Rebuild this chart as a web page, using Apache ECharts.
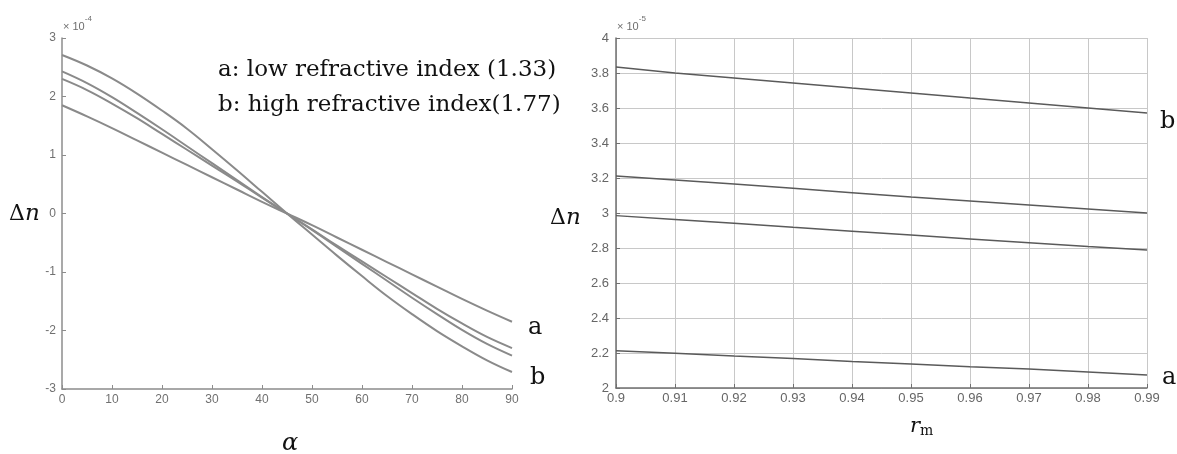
<!DOCTYPE html>
<html><head><meta charset="utf-8">
<script src="https://cdn.jsdelivr.net/npm/echarts@6/dist/echarts.min.js"></script>
<style>html,body{margin:0;padding:0;background:#fff}#c{width:1177px;height:454px}</style>
</head><body><div id="c"></div>
<script>
// Left panel: Δn (×10^-4) vs α (degrees)
const alphaVals = [0,5,10,15,20,25,30,35,40,45,50,55,60,65,70,75,80,85,90];
const curveB1 = [2.71,2.53,2.31,2.05,1.76,1.45,1.10,0.74,0.37,0,-0.36,-0.72,-1.07,-1.41,-1.72,-2.01,-2.27,-2.51,-2.71];
const curveB2 = [2.43,2.23,1.99,1.72,1.44,1.15,0.86,0.57,0.28,0,-0.28,-0.57,-0.86,-1.15,-1.44,-1.72,-1.99,-2.23,-2.43];
const curveB3 = [2.30,2.11,1.88,1.63,1.36,1.09,0.82,0.55,0.27,0,-0.27,-0.55,-0.82,-1.09,-1.36,-1.63,-1.88,-2.11,-2.30];
const curveA1 = [1.85,1.66,1.46,1.25,1.04,0.83,0.62,0.41,0.20,0,-0.20,-0.41,-0.62,-0.83,-1.04,-1.25,-1.46,-1.66,-1.85];
// Right panel: Δn (×10^-5) vs r_m
const rmVals = [0.90,0.91,0.92,0.93,0.94,0.95,0.96,0.97,0.98,0.99];
const lineR1 = [3.834,3.800,3.772,3.743,3.714,3.686,3.657,3.629,3.600,3.571];
const lineR2 = [3.211,3.189,3.166,3.141,3.116,3.091,3.069,3.046,3.023,3.000];
const lineR3 = [2.985,2.963,2.941,2.918,2.896,2.874,2.852,2.830,2.808,2.789];
const lineR4 = [2.213,2.198,2.183,2.169,2.152,2.137,2.122,2.108,2.092,2.074];

const pairs = (xs, ys) => xs.map((x, i) => [x, ys[i]]);
const chart = echarts.init(document.getElementById('c'), null, {renderer: 'canvas'});
const sans = 'Liberation Sans, Arial, sans-serif';
const leftTick = {color: '#707070', fontFamily: sans, fontSize: 12};
const rightTick = {color: '#666666', fontFamily: sans, fontSize: 13};
const serif = 'DejaVu Serif, serif';

const leftSeries = [curveB1, curveB2, curveB3, curveA1].map(ys => ({
  type: 'line', xAxisIndex: 0, yAxisIndex: 0, data: pairs(alphaVals, ys), smooth: 0.4,
  showSymbol: false, lineStyle: {color: '#8a8a8a', width: 2}, silent: true
}));
const rightSeries = [lineR1, lineR2, lineR3, lineR4].map(ys => ({
  type: 'line', xAxisIndex: 1, yAxisIndex: 1, data: pairs(rmVals, ys),
  showSymbol: false, lineStyle: {color: '#5a5a5a', width: 1.5}, silent: true
}));

chart.setOption({
  animation: false,
  grid: [
    {left: 62, top: 38, width: 450, height: 351},
    {left: 616, top: 38, width: 531, height: 350}
  ],
  xAxis: [
    {type: 'value', gridIndex: 0, min: 0, max: 90, interval: 10,
     axisLine: {onZero: false, lineStyle: {color: '#8c8c8c', width: 1.5}},
     axisTick: {inside: true, length: 4, lineStyle: {color: '#8c8c8c'}},
     axisLabel: Object.assign({margin: 5}, leftTick), splitLine: {show: false}},
    {type: 'value', gridIndex: 1, min: 0.9, max: 0.99, interval: 0.01,
     axisLine: {onZero: false, lineStyle: {color: '#707070', width: 1.5}},
     axisTick: {inside: true, length: 4, lineStyle: {color: '#707070'}},
     axisLabel: Object.assign({margin: 4, formatter: v => String(parseFloat(v.toFixed(2)))}, rightTick),
     splitLine: {show: true, lineStyle: {color: '#c8c8c8', width: 1}}}
  ],
  yAxis: [
    {type: 'value', gridIndex: 0, min: -3, max: 3, interval: 1,
     axisLine: {show: true, onZero: false, lineStyle: {color: '#8c8c8c', width: 1.5}},
     axisTick: {show: true, inside: true, length: 4, lineStyle: {color: '#8c8c8c'}},
     axisLabel: Object.assign({margin: 6}, leftTick), splitLine: {show: false}},
    {type: 'value', gridIndex: 1, min: 2, max: 4, interval: 0.2,
     axisLine: {show: true, onZero: false, lineStyle: {color: '#707070', width: 1.5}},
     axisTick: {show: true, inside: true, length: 4, lineStyle: {color: '#707070'}},
     axisLabel: Object.assign({margin: 7, formatter: v => String(parseFloat(v.toFixed(1)))}, rightTick),
     splitLine: {show: true, lineStyle: {color: '#c8c8c8', width: 1}}}
  ],
  series: leftSeries.concat(rightSeries),
  graphic: [
    {type: 'text', left: 63, top: 15, style: {text: '{a|× 10}{s|-4}', rich: {
      a: {fontSize: 11, fill: '#6e6e6e', fontFamily: sans, padding: [6,0,0,0]},
      s: {fontSize: 8, fill: '#6e6e6e', fontFamily: sans, verticalAlign: 'top'}}}},
    {type: 'text', left: 617, top: 15, style: {text: '{a|× 10}{s|-5}', rich: {
      a: {fontSize: 11, fill: '#6e6e6e', fontFamily: sans, padding: [6,0,0,0]},
      s: {fontSize: 8, fill: '#6e6e6e', fontFamily: sans, verticalAlign: 'top'}}}},
    {type: 'text', left: 218, top: 59, style: {text: 'a: low refractive index (1.33)', font: '23px ' + serif, fill: '#111'}},
    {type: 'text', left: 218, top: 94, style: {text: 'b: high refractive index(1.77)', font: '23px ' + serif, fill: '#111'}},
    {type: 'text', left: 9, top: 203, style: {text: '{d|Δ}{n|n}', rich: {
      d: {fontSize: 22, fontFamily: serif, fill: '#111'}, n: {fontSize: 23, fontStyle: 'italic', fontFamily: serif, fill: '#111'}}}},
    {type: 'text', left: 550, top: 207, style: {text: '{d|Δ}{n|n}', rich: {
      d: {fontSize: 22, fontFamily: serif, fill: '#111'}, n: {fontSize: 23, fontStyle: 'italic', fontFamily: serif, fill: '#111'}}}},
    {type: 'text', left: 282, top: 432, style: {text: 'α', font: 'italic 24px ' + serif, fill: '#111'}},
    {type: 'text', left: 910, top: 416, style: {text: '{r|r}{m|m}', rich: {
      r: {fontSize: 21, fontStyle: 'italic', fontFamily: serif, fill: '#111'},
      m: {fontSize: 14, fontFamily: serif, fill: '#111', padding: [10,0,0,0]}}}},
    {type: 'text', left: 528, top: 316, style: {text: 'a', font: '24px ' + serif, fill: '#111'}},
    {type: 'text', left: 530, top: 366, style: {text: 'b', font: '24px ' + serif, fill: '#111'}},
    {type: 'text', left: 1160, top: 110, style: {text: 'b', font: '24px ' + serif, fill: '#111'}},
    {type: 'text', left: 1162, top: 366, style: {text: 'a', font: '24px ' + serif, fill: '#111'}}
  ]
});
</script></body></html>
